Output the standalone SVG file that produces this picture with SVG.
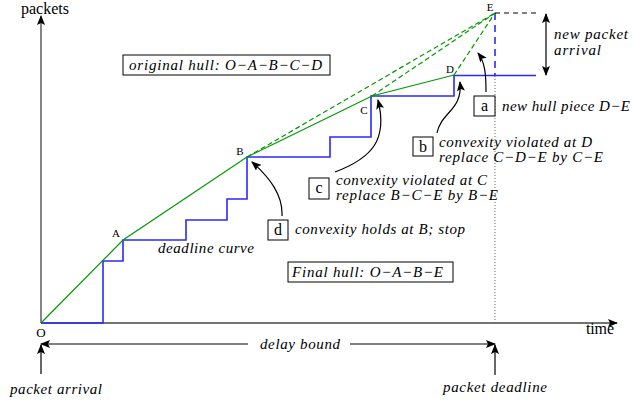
<svg xmlns="http://www.w3.org/2000/svg" width="632" height="402" viewBox="0 0 632 402">
<style>
text{font-family:"Liberation Serif","DejaVu Serif","Noto Serif",serif;fill:#000}
.it{font-style:italic;font-size:15px}
.lab{font-size:11px}
.up{font-size:16px}
.box{fill:#fff;stroke:#000;stroke-width:1}
.axis{stroke:#444;stroke-width:1.3;fill:none}
.blue{stroke:#2a2aff;stroke-width:1.6;fill:none}
.green{stroke:#009a00;stroke-width:1.2;fill:none}
.gdash{stroke:#009a00;stroke-width:1.2;fill:none;stroke-dasharray:5,3}
.arr{stroke:#000;stroke-width:1.2;fill:none}
</style>
<defs>
<marker id="ah" viewBox="0 0 10 8" refX="9" refY="4" markerWidth="10" markerHeight="8" markerUnits="userSpaceOnUse" orient="auto-start-reverse">
<path d="M0,0 L10,4 L0,8 L2,4 z" fill="#000"/>
</marker>
</defs>
<rect width="632" height="402" fill="#fff"/>

<g id="axes">
<line class="axis" x1="41" y1="323" x2="41" y2="16" marker-end="url(#ah)"/>
<line class="axis" x1="41" y1="323" x2="617" y2="323" marker-end="url(#ah)"/>
<text class="up" x="21" y="14" textLength="48">packets</text>
<text class="up" x="586" y="334" textLength="28">time</text>
<text x="41" y="337" font-size="13" text-anchor="middle">O</text>
</g>

<g id="deadline-curve">
<polyline class="blue" points="41,323 103,323 103,261 123,261 123,240 186,240 186,220 227,220 227,199 247,199 247,157 330,157 330,137 371,137 371,96 454,96 454,75.5 536,75.5"/>
<line class="blue" x1="495" y1="13" x2="495" y2="75" stroke-dasharray="7,5"/>
<line x1="495" y1="76" x2="495" y2="323" stroke="#666" stroke-width="1" stroke-dasharray="1,2"/>
<text class="it" x="158" y="253" textLength="96">deadline curve</text>
</g>

<g id="hull">
<polyline class="green" points="41,323 123,240 247,157 372,96 454,75"/>
<line class="gdash" x1="247" y1="157" x2="495" y2="13"/>
<line class="gdash" x1="372" y1="96" x2="495" y2="13"/>
<line class="gdash" x1="454" y1="75" x2="495" y2="13"/>
<text class="lab" x="116" y="237" text-anchor="middle">A</text>
<text class="lab" x="240" y="155" text-anchor="middle">B</text>
<text class="lab" x="364" y="114" text-anchor="middle">C</text>
<text class="lab" x="450" y="73" text-anchor="middle">D</text>
<text class="lab" x="490" y="11" text-anchor="middle">E</text>
</g>

<g id="new-arrival">
<line x1="495" y1="13" x2="537" y2="13" stroke="#000" stroke-width="1" stroke-dasharray="5,4"/>
<line class="arr" x1="546" y1="14" x2="546" y2="75" marker-start="url(#ah)" marker-end="url(#ah)"/>
<text class="it" x="554" y="39" textLength="74">new packet</text>
<text class="it" x="554" y="55" textLength="47">arrival</text>
</g>

<g id="original-hull">
<rect class="box" x="123" y="55" width="207" height="20"/>
<text class="it" x="129" y="70" textLength="193">original hull: O−A−B−C−D</text>
</g>

<g id="final-hull">
<rect class="box" x="288" y="262" width="165" height="20"/>
<text class="it" x="292" y="277" textLength="151">Final hull: O−A−B−E</text>
</g>

<g id="step-a">
<rect class="box" x="474" y="96" width="21" height="20"/>
<text class="up" x="484.5" y="111" text-anchor="middle">a</text>
<text class="it" x="502" y="111" textLength="128">new hull piece D−E</text>
</g>

<g id="step-b">
<rect class="box" x="413" y="137" width="20" height="19"/>
<text class="up" x="423" y="152" text-anchor="middle">b</text>
<text class="it" x="439" y="147" textLength="153">convexity violated at D</text>
<text class="it" x="439" y="162" textLength="164">replace C−D−E by C−E</text>
</g>

<g id="step-c">
<rect class="box" x="309" y="178" width="20" height="21"/>
<text class="up" x="319" y="193" text-anchor="middle">c</text>
<text class="it" x="336" y="185" textLength="151">convexity violated at C</text>
<text class="it" x="336" y="200" textLength="162">replace B−C−E by B−E</text>
</g>

<g id="step-d">
<rect class="box" x="268" y="220" width="20" height="20"/>
<text class="up" x="278" y="235" text-anchor="middle">d</text>
<text class="it" x="295" y="234" textLength="170">convexity holds at B; stop</text>
</g>

<g id="bottom">
<line class="arr" x1="248" y1="344" x2="41" y2="344" marker-end="url(#ah)"/>
<line class="arr" x1="350" y1="344" x2="495" y2="344" marker-end="url(#ah)"/>
<text class="it" x="260" y="349" textLength="80">delay bound</text>
<line class="arr" x1="41" y1="374" x2="41" y2="345" marker-end="url(#ah)"/>
<line class="arr" x1="495" y1="375" x2="495" y2="345" marker-end="url(#ah)"/>
<text class="it" x="10" y="394" textLength="92">packet arrival</text>
<text class="it" x="443" y="392" textLength="104">packet deadline</text>
</g>

<g id="connectors">
<path class="arr" d="M486,92 C486,74 485,62 478,53" marker-end="url(#ah)"/>
<path class="arr" d="M437,133 C441,112 463,110 460,82" marker-end="url(#ah)"/>
<path class="arr" d="M335,172 C372,158 388,140 378,100" marker-end="url(#ah)"/>
<path class="arr" d="M282,216 C283,195 270,178 252,162" marker-end="url(#ah)"/>
</g>
</svg>
